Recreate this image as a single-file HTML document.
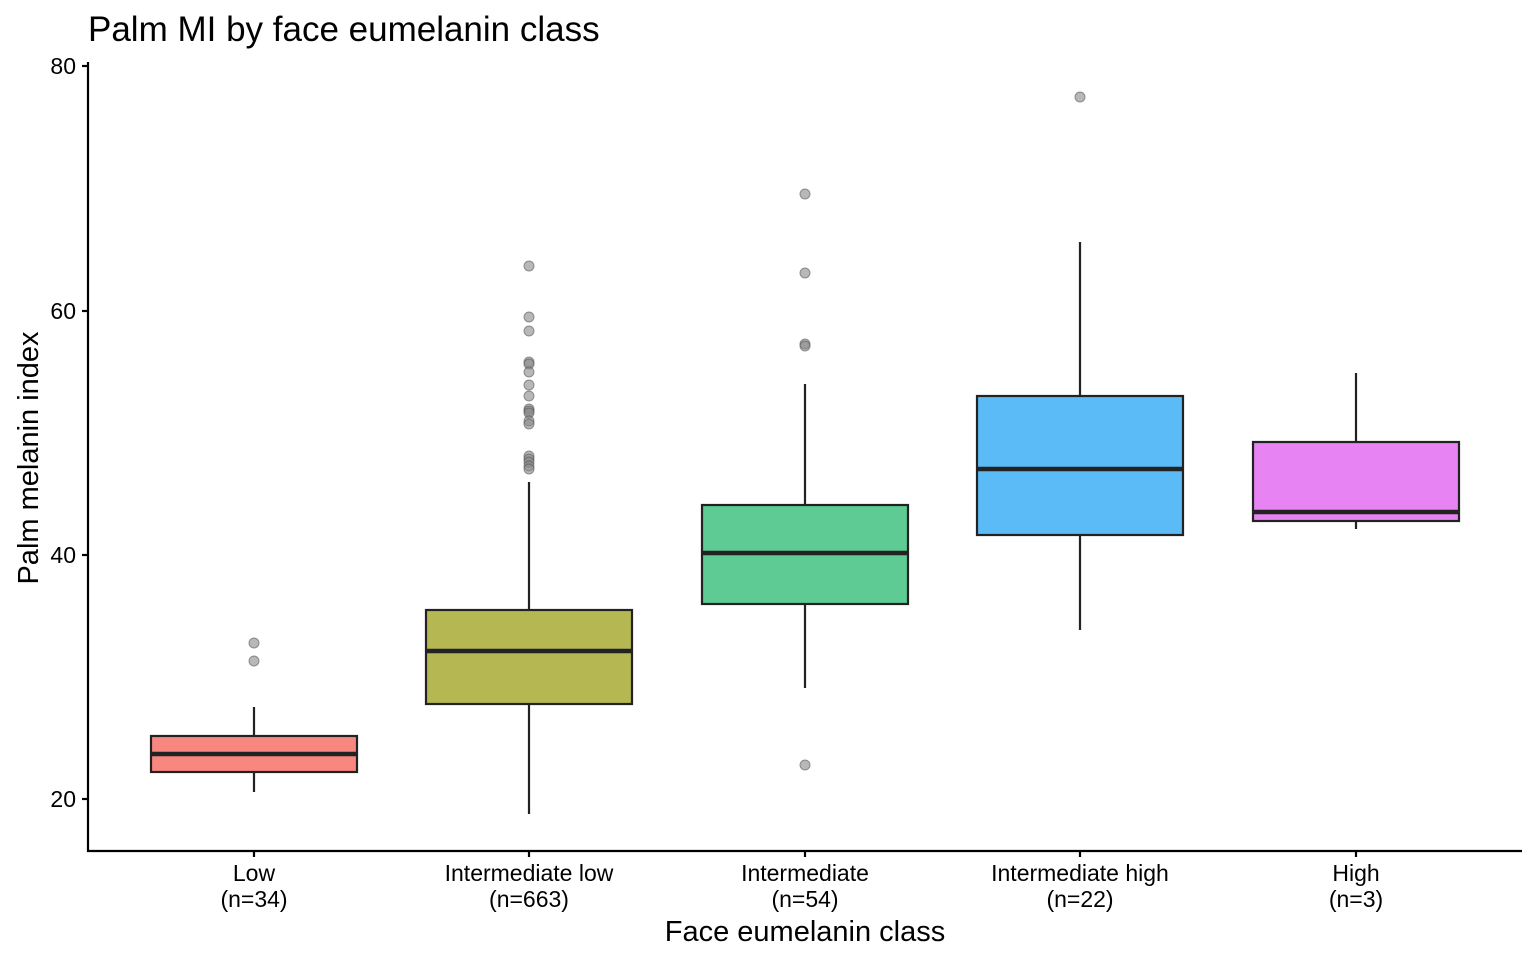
<!DOCTYPE html>
<html><head><meta charset="utf-8"><style>
body{margin:0;background:#fff}
svg text{font-family:"Liberation Sans",Arial,sans-serif}
</style></head><body>
<svg width="1536" height="960" xmlns="http://www.w3.org/2000/svg">
<rect width="1536" height="960" fill="#fff"/>
<text x="88" y="41" font-size="35" fill="#000">Palm MI by face eumelanin class</text>
<g stroke="#000" stroke-width="2.2" fill="none">
<line x1="88" y1="62" x2="88" y2="852"/>
<line x1="87" y1="851" x2="1522" y2="851"/>
<line x1="82" y1="66" x2="88" y2="66"/><line x1="82" y1="311" x2="88" y2="311"/>
<line x1="82" y1="555" x2="88" y2="555"/><line x1="82" y1="799" x2="88" y2="799"/>
<line x1="254" y1="851" x2="254" y2="857"/><line x1="529" y1="851" x2="529" y2="857"/>
<line x1="805" y1="851" x2="805" y2="857"/><line x1="1080" y1="851" x2="1080" y2="857"/>
<line x1="1356" y1="851" x2="1356" y2="857"/>
</g>
<g font-size="23" text-anchor="end" fill="#000">
<text x="76" y="74">80</text><text x="76" y="319">60</text><text x="76" y="563">40</text><text x="76" y="807">20</text>
</g>
<g font-size="23" text-anchor="middle" fill="#000">
<text x="254" y="881">Low</text><text x="254" y="907">(n=34)</text>
<text x="529" y="881">Intermediate low</text><text x="529" y="907">(n=663)</text>
<text x="805" y="881">Intermediate</text><text x="805" y="907">(n=54)</text>
<text x="1080" y="881">Intermediate high</text><text x="1080" y="907">(n=22)</text>
<text x="1356" y="881">High</text><text x="1356" y="907">(n=3)</text>
</g>
<text x="805" y="941" font-size="29" text-anchor="middle">Face eumelanin class</text>
<text transform="translate(38,458) rotate(-90)" font-size="29" text-anchor="middle">Palm melanin index</text>
<g stroke="#222" stroke-width="2.2">
<line x1="254" y1="707" x2="254" y2="792"/>
<rect x="151" y="736" width="206" height="36" fill="#F8877F"/>
<line x1="151" y1="754" x2="357" y2="754" stroke-width="4.5"/>
<line x1="529" y1="482" x2="529" y2="814"/>
<rect x="426" y="610" width="206" height="94" fill="#B5B752"/>
<line x1="426" y1="651" x2="632" y2="651" stroke-width="4.5"/>
<line x1="805" y1="384" x2="805" y2="688"/>
<rect x="702" y="505" width="206" height="99" fill="#5DCB93"/>
<line x1="702" y1="553" x2="908" y2="553" stroke-width="4.5"/>
<line x1="1080" y1="242" x2="1080" y2="630"/>
<rect x="977" y="396" width="206" height="139" fill="#5BBBF7"/>
<line x1="977" y1="469" x2="1183" y2="469" stroke-width="4.5"/>
<line x1="1356" y1="373" x2="1356" y2="529"/>
<rect x="1253" y="442" width="206" height="79" fill="#E783F2"/>
<line x1="1253" y1="512" x2="1459" y2="512" stroke-width="4.5"/>
</g>
<g fill="#888" fill-opacity="0.6" stroke="#555" stroke-opacity="0.6" stroke-width="1">
<circle cx="254" cy="643" r="5"/><circle cx="254" cy="661" r="5"/>
<circle cx="529" cy="266" r="5"/><circle cx="529" cy="317" r="5"/><circle cx="529" cy="331" r="5"/>
<circle cx="529" cy="362" r="5"/><circle cx="529" cy="364" r="5"/><circle cx="529" cy="372" r="5"/>
<circle cx="529" cy="385" r="5"/><circle cx="529" cy="396" r="5"/><circle cx="529" cy="409" r="5"/>
<circle cx="529" cy="411" r="5"/><circle cx="529" cy="413" r="5"/><circle cx="529" cy="421" r="5"/>
<circle cx="529" cy="424" r="5"/><circle cx="529" cy="456" r="5"/><circle cx="529" cy="459" r="5"/>
<circle cx="529" cy="462" r="5"/><circle cx="529" cy="466" r="5"/><circle cx="529" cy="469" r="5"/>
<circle cx="805" cy="194" r="5"/><circle cx="805" cy="273" r="5"/><circle cx="805" cy="344" r="5"/>
<circle cx="805" cy="346" r="5"/><circle cx="805" cy="765" r="5"/>
<circle cx="1080" cy="97" r="5"/>
</g>
</svg>
</body></html>
